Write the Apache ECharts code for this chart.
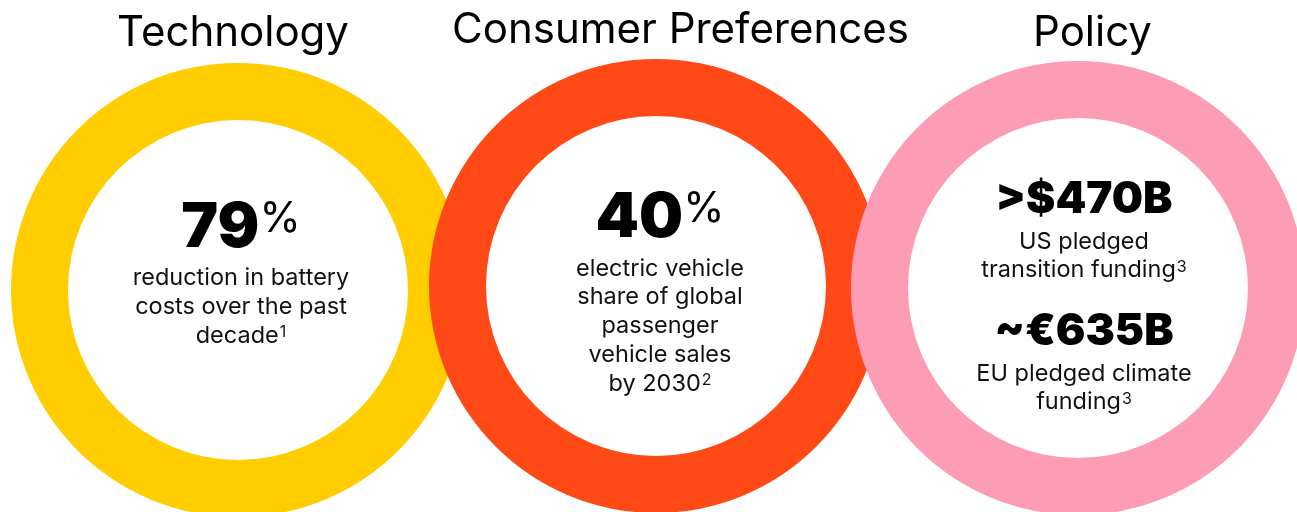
<!DOCTYPE html>
<html>
<head>
<meta charset="utf-8">
<script src="https://cdn.jsdelivr.net/npm/echarts@6/dist/echarts.min.js"></script>
<style>
html,body{margin:0;padding:0;background:#fff;}
#chart{width:1297px;height:512px;}
</style>
</head>
<body>
<div id="chart"></div>
<script>
// ---- data ----
const titles = ['Technology', 'Consumer Preferences', 'Policy'];
const ringShares = [100, 100, 100];
const headlines = ['79', '40', '>$470B', '~€635B'];
const headlineUnits = ['%', '%', '', ''];
const descriptions = [
  ['reduction in battery', 'costs over the past', 'decade'],
  ['electric vehicle', 'share of global', 'passenger', 'vehicle sales', 'by 2030'],
  ['US pledged', 'transition funding'],
  ['EU pledged climate', 'funding']
];
const footnotes = ['1', '2', '3', '3'];

// ---- styles / layout ----
const colors = ['#FFCD00', '#FF4A17', '#FD9DB5'];
const centers = [[238, 290], [656, 286], [1078, 288]];
const radii = ['170', '227'];
const titlePos = [[233, 33], [680.5, 30], [1092.5, 33]];
const blockPos = [[241, 192.7], [660, 182], [1084, 171.6], [1084, 303.3]];
const bigSizes = [62, 62, 44, 44];
const bigLH = [70.6, 72.3, 56, 56];
const descLH = [29, 28.7, 28.4, 28.4];

const FONT = 'Inter, "Noto Sans", sans-serif';

const chart = echarts.init(document.getElementById('chart'), null, {renderer: 'canvas'});

const series = ringShares.map((v, i) => ({
  type: 'pie',
  silent: true,
  animation: false,
  radius: [radii[0], radii[1]],
  center: centers[i],
  label: {show: false},
  labelLine: {show: false},
  emphasis: {disabled: true},
  itemStyle: {color: colors[i], borderWidth: 0},
  z: 2 + i,
  data: [{name: titles[i], value: v}]
}));

const graphics = [];
titles.forEach((t, i) => {
  graphics.push({
    type: 'text', x: titlePos[i][0], y: titlePos[i][1], z: 100,
    style: {text: t, fill: '#000', font: '400 42px ' + FONT, align: 'center', verticalAlign: 'middle'}
  });
});

headlines.forEach((h, i) => {
  const desc = descriptions[i];
  const lines = ['{big|' + h + '}' + (headlineUnits[i] ? '{pct|' + headlineUnits[i] + '}' : '')];
  desc.forEach((d, j) => {
    lines.push('{desc|' + d + '}' + (j === desc.length - 1 ? '{sup|' + footnotes[i] + '}' : ''));
  });
  graphics.push({
    type: 'text', x: blockPos[i][0], y: blockPos[i][1], z: 100,
    style: {
      text: lines.join('\n'),
      align: 'center', verticalAlign: 'top',
      fill: '#111',
      rich: {
        big: {fontFamily: FONT, fontWeight: 900, fontSize: bigSizes[i], lineHeight: bigLH[i], fill: '#000'},
        pct: {fontFamily: FONT, fontWeight: 400, fontSize: 42, verticalAlign: 'top', padding: [6, 0, 0, 0], fill: '#000'},
        desc: {fontFamily: FONT, fontWeight: 400, fontSize: 23.5, lineHeight: descLH[i], fill: '#111'},
        sup: {fontFamily: FONT, fontWeight: 400, fontSize: 16, verticalAlign: 'top', padding: [3, 0, 0, 1], fill: '#111'}
      }
    }
  });
});

chart.setOption({
  animation: false,
  backgroundColor: '#fff',
  series: series,
  graphic: graphics
});
</script>
</body>
</html>
